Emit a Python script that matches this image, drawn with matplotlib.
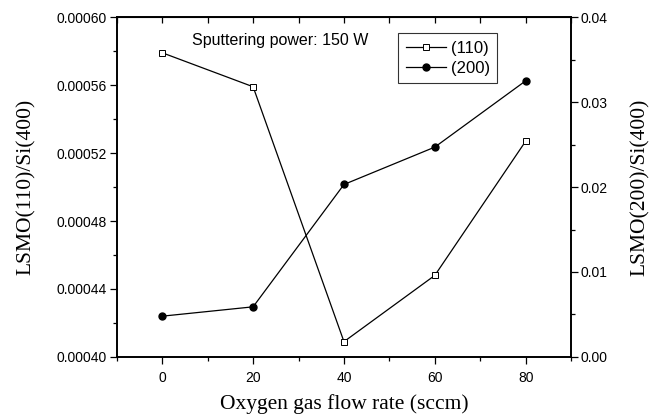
import matplotlib
matplotlib.use("Agg")
import matplotlib.pyplot as plt
from matplotlib.ticker import MultipleLocator, FormatStrFormatter

# 数据
flow = [0, 20, 40, 60, 80]
ratio_110 = [0.000579, 0.000559, 0.000409, 0.000448, 0.000527]
ratio_200 = [0.0048, 0.0059, 0.0203, 0.0247, 0.0325]

plt.rcParams["font.family"] = ["Liberation Sans", "DejaVu Sans"]
SERIF = ["Liberation Serif", "DejaVu Serif"]

fig = plt.figure(figsize=(6.49, 4.17), dpi=100)
ax = fig.add_axes([0.180, 0.144, 0.700, 0.815])
ax2 = ax.twinx()

l1, = ax.plot(flow, ratio_110, color="black", lw=0.9, marker="s", ms=4,
              mfc="white", mec="black", mew=0.7, label="(110)")
l2, = ax2.plot(flow, ratio_200, color="black", lw=0.9, marker="o", ms=5,
               mfc="black", mec="black", label="(200)")

ax.set_xlim(-10, 90)
ax.set_ylim(0.0004, 0.0006)
ax2.set_ylim(0.0, 0.04)

ax.xaxis.set_major_locator(MultipleLocator(20))
ax.xaxis.set_minor_locator(MultipleLocator(10))
ax.yaxis.set_major_locator(MultipleLocator(0.00004))
ax.yaxis.set_minor_locator(MultipleLocator(0.00002))
ax.yaxis.set_major_formatter(FormatStrFormatter("%.5f"))
ax2.yaxis.set_major_locator(MultipleLocator(0.01))
ax2.yaxis.set_minor_locator(MultipleLocator(0.005))
ax2.yaxis.set_major_formatter(FormatStrFormatter("%.2f"))

ax.tick_params(axis="x", which="both", direction="out", top=False, labelsize=10, pad=5)
ax.tick_params(axis="y", which="both", direction="out", labelsize=10, pad=2)
ax.tick_params(which="major", length=5, width=0.9)
ax.tick_params(which="minor", length=3, width=0.9)
ax2.tick_params(axis="y", which="both", direction="out", labelsize=10, pad=2)
ax2.tick_params(which="major", length=5, width=0.9)
ax2.tick_params(which="minor", length=3, width=0.9)

# 顶部内向刻度
sec = ax.secondary_xaxis("top")
sec.xaxis.set_major_locator(MultipleLocator(20))
sec.xaxis.set_minor_locator(MultipleLocator(10))
sec.tick_params(which="both", direction="in", length=4, width=0.9, labeltop=False)

for a in (ax, ax2):
    for s in a.spines.values():
        s.set_linewidth(1.2)

ax.set_xlabel("Oxygen gas flow rate (sccm)", family=SERIF, fontsize=15.5, labelpad=7)
ax.set_ylabel("LSMO(110)/Si(400)", family=SERIF, fontsize=15.5, labelpad=15)
ax2.set_ylabel("LSMO(200)/Si(400)", family=SERIF, fontsize=15.5, labelpad=16)

ax.text(0.165, 0.932, "Sputtering power: 150 W", transform=ax.transAxes,
        fontsize=11.5, va="center", ha="left")

leg = ax.legend([l1, l2], ["(110)", "(200)"], loc="upper left",
                bbox_to_anchor=(0.619, 0.953), borderaxespad=0, fontsize=12,
                frameon=True, fancybox=False, edgecolor="black", handlelength=2.4,
                handletextpad=0.3, borderpad=0.45, labelspacing=0.3)
leg.get_frame().set_linewidth(0.8)

fig.savefig("out.png", dpi=100)
